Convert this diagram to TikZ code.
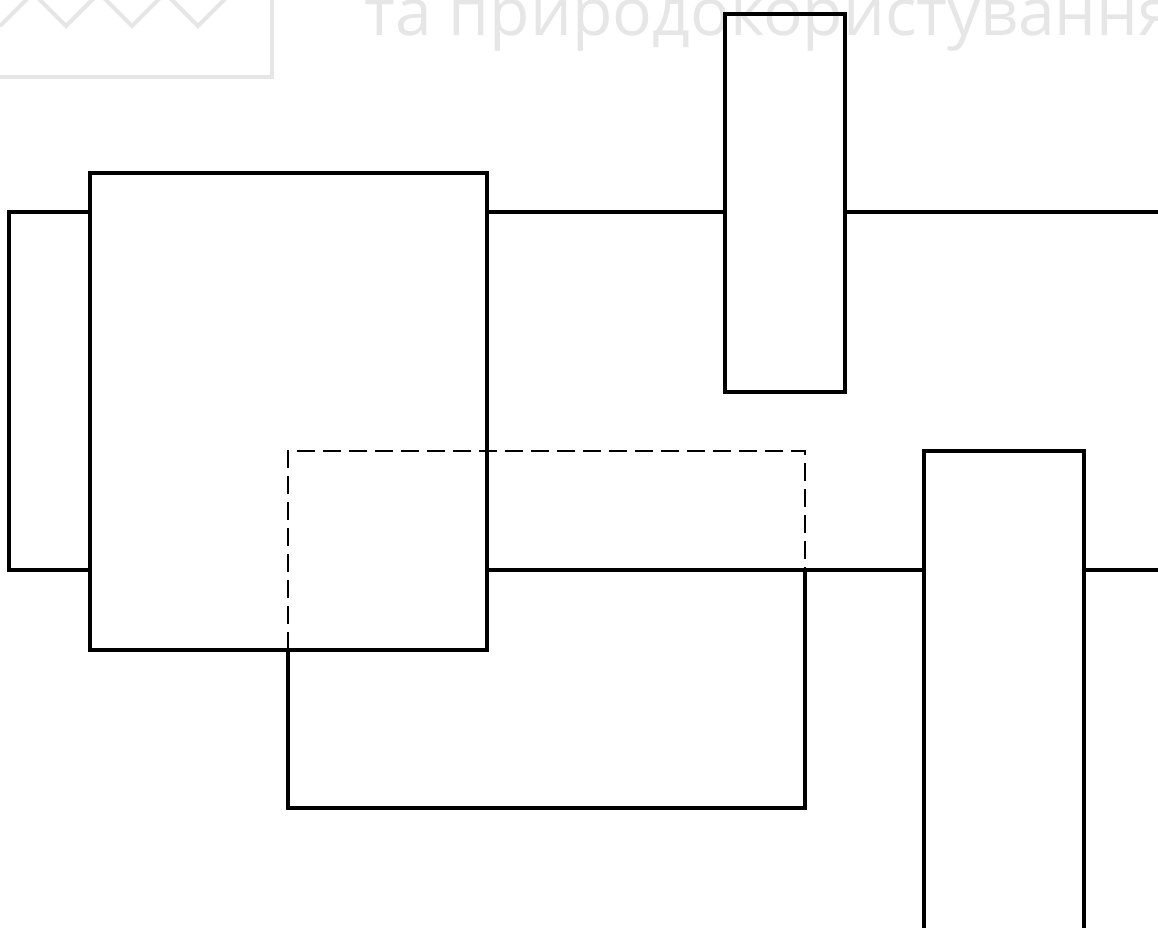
\documentclass[tikz,border=0pt]{standalone}
\usepackage{fontspec}
\newfontfamily\wmfont{Open Sans}
\definecolor{wmgray}{HTML}{E6E6E6}
\tikzset{
  wire/.style={line width=3.6pt, line cap=rect},
  boxn/.style={draw, line width=3.6pt, inner sep=0pt, outer sep=0pt},
  hidden/.style={line width=2.4pt, dash pattern=on 18pt off 8pt},
  wm/.style={draw=wmgray, line width=4pt}
}
\begin{document}
\begin{tikzpicture}[x=1pt,y=-1pt]
\useasboundingbox (0,0) rectangle (1158,927);
\begin{scope}
\clip (0,0) rectangle (1158,927);
% watermark
\draw[wm] (-10,-10) rectangle (272,77);
\draw[wm] (0,26) -- (33,-7) -- (66,26) -- (99,-7) -- (132,26) -- (165,-7) -- (198,26) -- (231,-7);
\node[anchor=base west, inner sep=0pt, text=wmgray, font=\wmfont\fontsize{66}{66}\selectfont] (wmtext) at (364,35) {та природокористування};
% left small box
\node[boxn, minimum width=81pt, minimum height=358pt] (lbox) at (49.5,391) {};
% big box
\node[boxn, minimum width=397pt, minimum height=477pt] (big) at (288.5,411.5) {};
% top-right box
\node[boxn, minimum width=120pt, minimum height=378pt] (tbox) at (785,203) {};
% bottom-right box
\node[boxn, minimum width=160pt, minimum height=500pt] (rbox) at (1004,701) {};
% coordinates
\coordinate (e1) at (1160,212);
\coordinate (e2) at (1160,570);
\coordinate (u1) at (288,650);
\coordinate (u2) at (288,808);
\coordinate (u3) at (805,808);
\coordinate (u4) at (805,570);
\coordinate (d1) at (288,451);
\coordinate (d2) at (805,451);
% wires
\draw[wire] (big.east |- 0,212) -- (tbox.west |- 0,212);
\draw[wire] (tbox.east |- 0,212) -- (e1);
\draw[wire] (big.east |- 0,570) -- (rbox.west |- 0,570);
\draw[wire] (rbox.east |- 0,570) -- (e2);
\draw[wire, line cap=butt, line join=miter] (u1) -- (u2) -- (u3) -- (u4);
\draw[hidden] (u1) -- (d1) -- (d2) -- (u4);
\end{scope}
\end{tikzpicture}
\end{document}
